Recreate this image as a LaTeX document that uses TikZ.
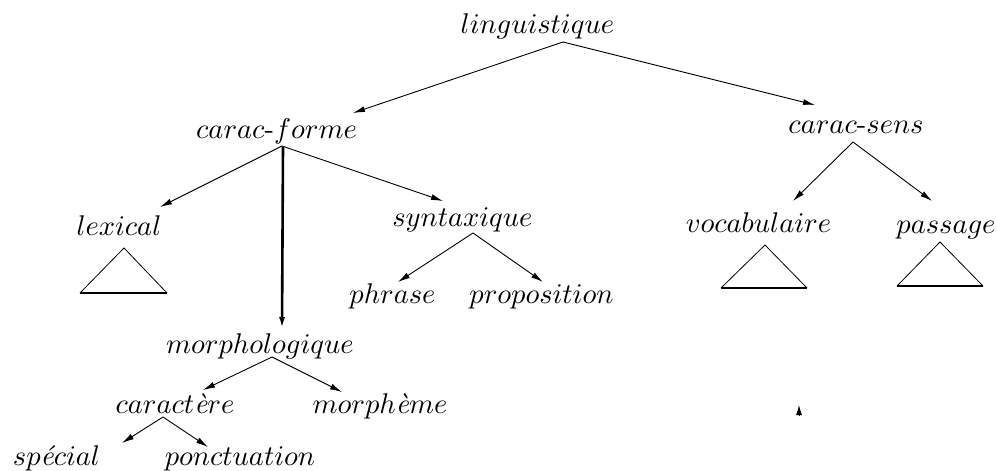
\documentclass[tikz,border=0pt]{standalone}
\usetikzlibrary{arrows.meta}
\begin{document}
\begin{tikzpicture}[x=1pt,y=-1pt,
  lbl/.style={anchor=base,inner sep=0pt,scale=2.85},
  arr/.style={-{Latex[length=12pt,width=6pt]},line width=0.9pt},
  thk/.style={-{Latex[length=12pt,width=6pt]},line width=2.6pt},
  tri/.style={line width=0.8pt},
  base/.style={line width=2.4pt}]
\useasboundingbox (0,0) rectangle (997,471);
% labels
\node[lbl] (ling) at (537.5,34) {$linguistique$};
\node[lbl] (cf) at (276.5,138) {$carac\mbox{-}forme$};
\node[lbl] (cs) at (856,133) {$carac\mbox{-}sens$};
\node[lbl] (lex) at (119,235) {$lexical$};
\node[lbl] (syn) at (462.5,226) {$syntaxique$};
\node[lbl] (voc) at (758.5,232) {$vocabulaire$};
\node[lbl] (pas) at (946,233) {$passage$};
\node[lbl] (phr) at (392.5,303) {$phrase$};
\node[lbl] (prop) at (541.5,303) {$proposition$};
\node[lbl] (morph) at (260,353) {$morphologique$};
\node[lbl] (car) at (175,413) {$caract\mbox{\itshape è}re$};
\node[lbl] (mph) at (380,413) {$morph\mbox{\itshape è}me$};
\node[lbl] (spe) at (56.5,465) {$sp\mbox{\itshape é}cial$};
\node[lbl] (pon) at (240,465) {$ponctuation$};
% connector ends
\coordinate (ling-o) at (563,42);
\coordinate (cf-i) at (353,113);
\coordinate (cs-i) at (815,105);
\coordinate (cf-o) at (282,146);
\coordinate (cf-v) at (283,147);
\coordinate (lex-i) at (160,207);
\coordinate (syn-i) at (443,201);
\coordinate (morph-i) at (282,329);
\coordinate (cs-o) at (853,142);
\coordinate (voc-i) at (793,201);
\coordinate (pas-i) at (932,201);
\coordinate (syn-o) at (473,233);
\coordinate (phr-i) at (398,282);
\coordinate (prop-i) at (543,282);
\coordinate (morph-o) at (272,357);
\coordinate (car-i) at (203,390);
\coordinate (mph-i) at (342,392);
\coordinate (car-o) at (163,417);
\coordinate (spe-i) at (122,443);
\coordinate (pon-i) at (208,447);
% connectors
\draw[arr] (ling-o) -- (cf-i);
\draw[arr] (ling-o) -- (cs-i);
\draw[arr] (cf-o) -- (lex-i);
\draw[arr] (cf-o) -- (syn-i);
\draw[thk] (cf-v) -- (morph-i);
\draw[arr] (cs-o) -- (voc-i);
\draw[arr] (cs-o) -- (pas-i);
\draw[arr] (syn-o) -- (phr-i);
\draw[arr] (syn-o) -- (prop-i);
\draw[arr] (morph-o) -- (car-i);
\draw[arr] (morph-o) -- (mph-i);
\draw[arr] (car-o) -- (spe-i);
\draw[arr] (car-o) -- (pon-i);
% triangles
\coordinate (lexA) at (124,248); \coordinate (lexL) at (80,293); \coordinate (lexR) at (167,293);
\coordinate (vocA) at (765,245); \coordinate (vocL) at (721,288); \coordinate (vocR) at (807,288);
\coordinate (pasA) at (940,242); \coordinate (pasL) at (897,286); \coordinate (pasR) at (983,286);
\draw[tri] (lexL) -- (lexA) -- (lexR); \draw[base] (lexL) -- (lexR);
\draw[tri] (vocL) -- (vocA) -- (vocR); \draw[base] (vocL) -- (vocR);
\draw[tri] (pasL) -- (pasA) -- (pasR); \draw[base] (pasL) -- (pasR);
% lone arrowhead
\coordinate (lone-a) at (799,416);
\coordinate (lone-b) at (799,405);
\draw[-{Latex[length=10pt,width=6pt]},line width=0.9pt] (lone-a) -- (lone-b);
\end{tikzpicture}
\end{document}
